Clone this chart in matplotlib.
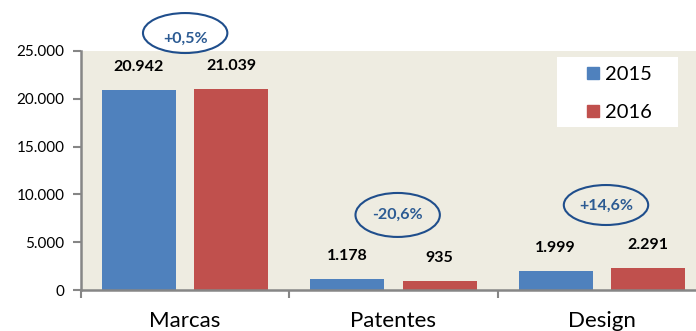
import matplotlib
matplotlib.use('Agg')
import matplotlib.pyplot as plt
import numpy as np
from matplotlib.patches import Ellipse, Patch, Rectangle
from matplotlib.ticker import FuncFormatter, FixedLocator

plt.rcParams['font.family'] = ['Lato', 'DejaVu Sans']

# pedidos por tipo de registo
categorias = ['Marcas', 'Patentes', 'Design']
anos = ['2015', '2016']
v2015 = [20942, 1178, 1999]
v2016 = [21039, 935, 2291]

cor_azul = '#4F81BD'
cor_verm = '#C0504D'
cinza = '#868686'


def milhares(v, pos=None):
    return f'{int(round(v)):,}'.replace(',', '.')


fig = plt.figure(figsize=(6.96, 3.31), dpi=100)
ax = fig.add_axes([81 / 696, 1 - 290 / 331, 1 - 81 / 696, (290 - 51) / 331])
ax.set_facecolor('#EEECE1')

x = np.arange(len(categorias))
larg = 0.355
desl = 0.222
b1 = ax.bar(x - desl, v2015, larg, color=cor_azul)
b2 = ax.bar(x + desl, v2016, larg, color=cor_verm)

# rótulos dos valores por cima das barras
for xs, vals in ((x - desl, v2015), (x + desl, v2016)):
    for xi, v in zip(xs, vals):
        ax.annotate(milhares(v), (xi, v), xytext=(0, 16.5), textcoords='offset points',
                    ha='center', va='center', fontsize=11.5, fontweight='bold', color='black')

# variação 2016/2015 dentro de elipses
var = [(b / a - 1) * 100 for a, b in zip(v2015, v2016)]
var_txt = [f'{v:+.1f}%'.replace('.', ',') for v in var]
elipses = [(0.0, 26880, 26250, 4180), (1.02, 7850, 7850, 4600), (2.02, 8890, 8800, 4180)]
for txt, (ex, ey, ty, eh) in zip(var_txt, elipses):
    ax.add_patch(Ellipse((ex, ey), 0.405, eh, fill=False, edgecolor='#1F4E8C',
                         linewidth=1.5, clip_on=False))
    ax.text(ex, ty, txt, ha='center', va='center', fontsize=11.5,
            fontweight='bold', color='#2C5B93', clip_on=False)

ax.set_xlim(-0.5, 2.452)
ax.set_ylim(0, 25000)
ax.set_yticks(np.arange(0, 25001, 5000))
ax.yaxis.set_major_formatter(FuncFormatter(milhares))
ax.xaxis.set_major_locator(FixedLocator([-0.5, 0.5, 1.5, 2.5]))
ax.xaxis.set_ticklabels([])
ax.tick_params(axis='x', length=6, width=1.5, color=cinza)
ax.tick_params(axis='y', length=6, width=1.5, color=cinza, labelsize=11, pad=6)
for xi, c in zip(x, categorias):
    ax.text(xi, -0.155, c, transform=ax.get_xaxis_transform(), ha='center',
            va='baseline', fontsize=16)

for s in ('top', 'right'):
    ax.spines[s].set_visible(False)
for s in ('left', 'bottom'):
    ax.spines[s].set_color(cinza)
    ax.spines[s].set_linewidth(1.8)

# caixa branca da legenda
fig.add_artist(Rectangle((557 / 696, 1 - 127 / 331), 121 / 696, 70 / 331,
                         transform=fig.transFigure, facecolor='white', edgecolor='none'))
handles = [Patch(color=cor_azul), Patch(color=cor_verm)]
leg = fig.legend(handles, anos, loc='upper left', bbox_to_anchor=(587 / 696, 1 - 66 / 331),
                 fontsize=14.5, frameon=False,
                 handlelength=0.6, handleheight=0.6, handletextpad=0.3,
                 borderpad=0, labelspacing=1.05, borderaxespad=0)

fig.savefig('out.png', dpi=100)
